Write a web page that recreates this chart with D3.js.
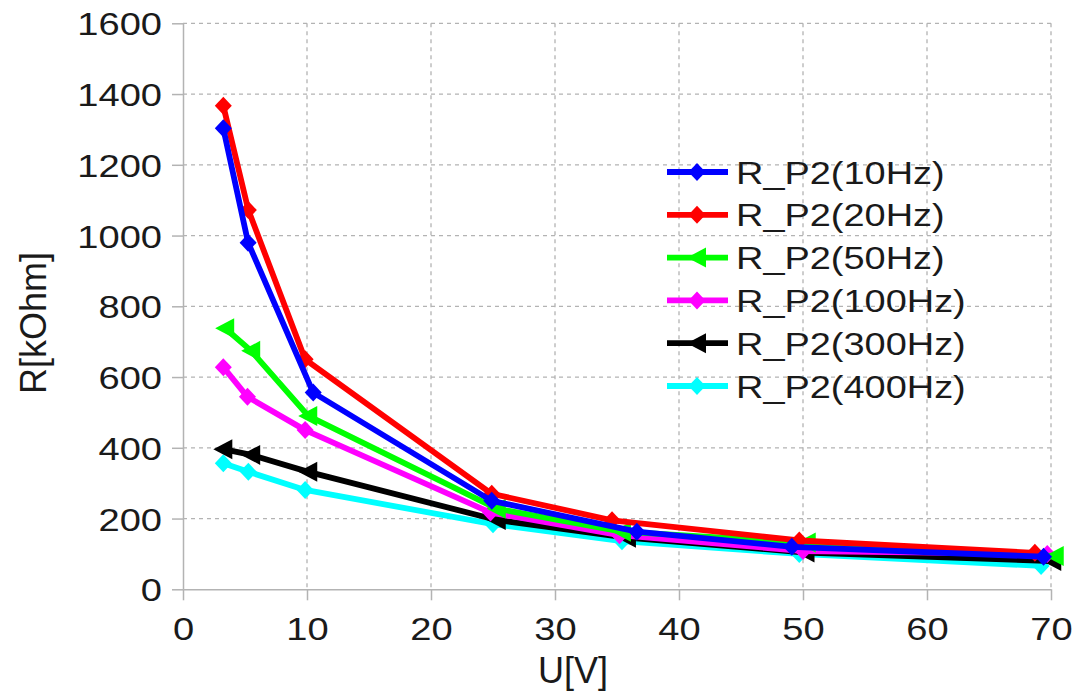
<!DOCTYPE html>
<html><head><meta charset="utf-8">
<script src="https://cdn.jsdelivr.net/npm/d3@7"></script>
<style>body{margin:0;background:#fff}svg{display:block}text{font-family:"Liberation Sans",Arial,sans-serif;fill:#1a1a1a}</style>
</head><body><svg id="c" width="1092" height="693"></svg>
<script>
const xTicks = [0,10,20,30,40,50,60,70];
const yTicks = [0,200,400,600,800,1000,1200,1400,1600];
const seriesNames = ["R_P2(10Hz)","R_P2(20Hz)","R_P2(50Hz)","R_P2(100Hz)","R_P2(300Hz)","R_P2(400Hz)"];
const seriesColors = ["#0000ff","#ff0000","#00ff00","#ff00ff","#000000","#00ffff"];
const seriesMarkers = ["diamond","diamond","triangle","diamond","triangle","diamond"];
const u10  = [3.25,5.25,10.5,24.9,36.6,49.1,69.4];
const r10  = [1303,980,556,250,163,120,92];
const u20  = [3.25,5.27,9.85,24.9,34.6,49.7,68.7];
const r20  = [1367,1072,650,270,195,138,103];
const u50  = [3.4,5.5,10.1,25.3,35.4,50.3,70.3];
const r50  = [738,674,490,228,163,132,94];
const u100 = [3.25,5.2,9.85,24.8,35.2,50.0,69.7];
const r100 = [628,544,450,217,153,108,100];
const u300 = [3.25,5.5,10.1,25.3,35.8,50.2,70.1];
const r300 = [396,380,332,196,146,104,80];
const u400 = [3.25,5.27,9.85,25.0,35.4,49.7,69.2];
const r400 = [356,332,281,184,136,100,66];
const us = [u10,u20,u50,u100,u300,u400];
const rs = [r10,r20,r50,r100,r300,r400];

const svg = d3.select("#c");
const L=183, R=1051, T=23.3, B=589.3;
const x = d3.scaleLinear().domain([0,70]).range([L,R]);
const y = d3.scaleLinear().domain([0,1600]).range([B,T]);
const grid="#b3b3b3";
const STRETCH = 1.19;
function stretch(sel, k){
  sel.each(function(){
    const w = this.getComputedTextLength();
    d3.select(this).attr("textLength", w*k).attr("lengthAdjust","spacingAndGlyphs");
  });
}

// grid
svg.append("g").selectAll("line").data(xTicks.slice(1)).join("line")
  .attr("x1",d=>x(d)).attr("x2",d=>x(d)).attr("y1",T).attr("y2",B)
  .attr("stroke",grid).attr("stroke-width",1.3).attr("stroke-dasharray","4,4");
svg.append("g").selectAll("line").data(yTicks.slice(1)).join("line")
  .attr("x1",L).attr("x2",R).attr("y1",d=>y(d)).attr("y2",d=>y(d))
  .attr("stroke",grid).attr("stroke-width",1.3).attr("stroke-dasharray","4,4");

// axes
const xa = svg.append("g").attr("transform",`translate(0,${B})`)
  .call(d3.axisBottom(x).tickValues(xTicks).tickFormat(d3.format("d")).tickSize(11).tickPadding(17).tickSizeOuter(0));
const ya = svg.append("g").attr("transform",`translate(${L},0)`)
  .call(d3.axisLeft(y).tickValues(yTicks).tickFormat(d3.format("d")).tickSize(11).tickPadding(10).tickSizeOuter(0));
[xa,ya].forEach(a=>{
  a.select(".domain").attr("stroke",grid).attr("stroke-width",1.5);
  a.selectAll(".tick line").attr("stroke",grid).attr("stroke-width",1.5);
  a.selectAll(".tick text").attr("font-size",32).attr("font-family","Liberation Sans, Arial, sans-serif").attr("fill","#1a1a1a");
});
ya.selectAll(".tick text").attr("dy","0.36em");
xa.selectAll(".tick text").attr("dy","0.71em");
stretch(ya.selectAll(".tick text"), STRETCH);
stretch(xa.selectAll(".tick text"), STRETCH);

// markers
function markerPath(type){
  if(type==="diamond") return "M0,-9L8.5,0L0,9L-8.5,0Z";
  return "M-10,0L9,-10L9,10Z";
}

const line = d3.line().x(d=>x(d[0])).y(d=>y(d[1]));
// drawn last-to-first so the first series lies on top
d3.range(seriesNames.length).reverse().forEach(i=>{
  const pts = us[i].map((u,j)=>[u,rs[i][j]]);
  const g = svg.append("g");
  g.append("path").datum(pts).attr("d",line).attr("fill","none")
    .attr("stroke",seriesColors[i]).attr("stroke-width",5.8).attr("stroke-linejoin","round");
  g.selectAll("path.m").data(pts).join("path").attr("class","m")
    .attr("d",markerPath(seriesMarkers[i]))
    .attr("transform",d=>`translate(${x(d[0])},${y(d[1])})`)
    .attr("fill",seriesColors[i]);
});

// legend
const lg = svg.append("g");
seriesNames.forEach((n,i)=>{
  const yy = 172 + i*42.8;
  lg.append("line").attr("x1",667).attr("x2",728).attr("y1",yy).attr("y2",yy)
    .attr("stroke",seriesColors[i]).attr("stroke-width",5.8);
  lg.append("path").attr("d",markerPath(seriesMarkers[i]))
    .attr("transform",`translate(697,${yy})`).attr("fill",seriesColors[i]);
  lg.append("text").attr("x",736).attr("y",yy).attr("dy","0.36em")
    .attr("font-size",32).text(n);
});
stretch(lg.selectAll("text"), 1.185);

// titles
svg.append("text").attr("x",573).attr("y",683).attr("text-anchor","middle")
  .attr("font-size",36).text("U[V]");
svg.append("text").attr("transform","translate(46,323) rotate(-90)")
  .attr("text-anchor","middle").attr("font-size",36).text("R[kOhm]");
</script></body></html>
